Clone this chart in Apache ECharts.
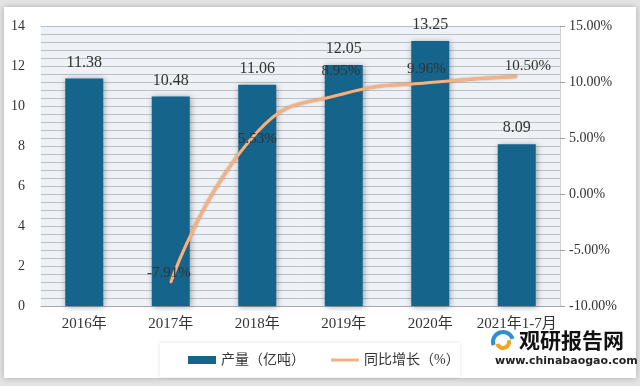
<!DOCTYPE html>
<html><head><meta charset="utf-8">
<script src="https://cdn.jsdelivr.net/npm/echarts@6/dist/echarts.min.js"></script>
<style>html,body{margin:0;padding:0;background:#e4e4e4;}#c{width:640px;height:386px;}</style>
</head><body><div id="c"></div>
<script>
const categories = ['2016年','2017年','2018年','2019年','2020年','2021年1-7月'];
const output = [11.38, 10.48, 11.06, 12.05, 13.25, 8.09];
const growth = [null, -7.91, 5.53, 8.95, 9.96, 10.50];
const leftTicks = {min: 0, max: 14, interval: 2};
const rightTicks = {min: -10, max: 15, interval: 5};

const serif = "'Liberation Serif','Noto Sans CJK SC',serif";
const labelShift = [[0,0], [-2,-10], [0,7], [-3,-23], [-4,-13], [11,-10]];

const chart = echarts.init(document.getElementById('c'));
chart.setOption({
  animation: false,
  backgroundColor: 'transparent',
  graphic: [
    {type:'rect', z:-10, shape:{x:4,y:7,width:632,height:371}, style:{fill:'#ffffff', shadowBlur:6, shadowColor:'rgba(0,0,0,0.25)'}},
    {type:'rect', z:-5, shape:{x:160,y:343,width:300,height:34}, style:{fill:'#ffffff', shadowBlur:4, shadowColor:'rgba(0,0,0,0.12)'}},
    {type:'arc', shape:{cx:503,cy:342,r:10,startAngle:Math.PI*0.9,endAngle:Math.PI*1.9}, style:{stroke:'#2f8fd1', lineWidth:4, fill:null}},
    {type:'arc', shape:{cx:503,cy:342,r:6,startAngle:-Math.PI*0.1,endAngle:Math.PI*0.9}, style:{stroke:'#f2a41c', lineWidth:4, fill:null}},
    {type:'text', left:519, top:330, style:{text:'观研报告网', fill:'#111', font:"bold 21px 'Noto Sans CJK SC'"}},
    {type:'text', left:495, top:356, style:{text:'www.chinabaogao.com', fill:'#222', font:"bold 11px 'DejaVu Sans'"}}
  ],
  grid: {left: 41, right: 80, top: 26, bottom: 80, show: true, backgroundColor: '#eef2f7', borderWidth: 0},
  legend: {
    bottom: 14, left: 183, itemGap: 26, itemWidth: 28, itemHeight: 8,
    textStyle: {fontFamily: serif, fontSize: 14, color: '#333'},
    data: [
      {name:'产量（亿吨）', icon:'rect'},
      {name:'同比增长（%）', icon:'path://M0,0 L28,0 L28,3 L0,3 Z', itemStyle:{color:'#f4b183', opacity:1}}
    ]
  },
  xAxis: {
    type: 'category', data: categories,
    axisLine: {lineStyle: {color: '#a8a8a8'}},
    axisTick: {show: false},
    axisLabel: {fontFamily: serif, fontSize: 15, color: '#333', margin: 11, interval: 0, hideOverlap: false}
  },
  yAxis: [
    {
      type: 'value', min: leftTicks.min, max: leftTicks.max, interval: leftTicks.interval,
      axisLine: {show: false}, axisTick: {show: false},
      axisLabel: {fontFamily: serif, fontSize: 14, color: '#333', margin: 16},
      splitLine: {lineStyle: {color: '#b9c0c8', width: 1}},
      minorTick: {show: false, splitNumber: 5},
      minorSplitLine: {show: true, lineStyle: {color: '#b9c0c8', width: 1}}
    },
    {
      type: 'value', min: rightTicks.min, max: rightTicks.max, interval: rightTicks.interval,
      position: 'right',
      axisLine: {show: true, lineStyle: {color: '#d0d0d0'}},
      axisTick: {show: true, length: 5, lineStyle: {color: '#a0a0a0'}},
      axisLabel: {fontFamily: serif, fontSize: 14, color: '#333', margin: 9,
        formatter: v => v.toFixed(2) + '%'},
      splitLine: {show: false}
    }
  ],
  series: [
    {
      name: '产量（亿吨）', type: 'bar', data: output, barWidth: 38,
      itemStyle: {color: '#14648c', shadowBlur: 6, shadowColor: 'rgba(0,0,0,0.35)', shadowOffsetX: 1, shadowOffsetY: 1},
      label: {show: true, position: 'top', distance: 8, fontFamily: serif, fontSize: 16, color: '#333'}
    },
    {
      name: '同比增长（%）', type: 'line', yAxisIndex: 1, z: 5,
      data: growth.map(v => v === null ? '-' : v),
      smooth: 0.5, symbol: 'circle', symbolSize: 2, showSymbol: true, connectNulls: false,
      lineStyle: {color: '#f4b183', width: 3, shadowBlur: 2, shadowColor: 'rgba(150,90,30,0.6)'},
      itemStyle: {color: '#f4b183'},
      label: {show: true, position: 'inside', fontFamily: serif, fontSize: 15, color: '#333',
        formatter: p => Number(p.value).toFixed(2) + '%'},
      labelLayout: p => ({dx: labelShift[p.dataIndex][0], dy: labelShift[p.dataIndex][1], hideOverlap: false})
    }
  ]
});
</script></body></html>
